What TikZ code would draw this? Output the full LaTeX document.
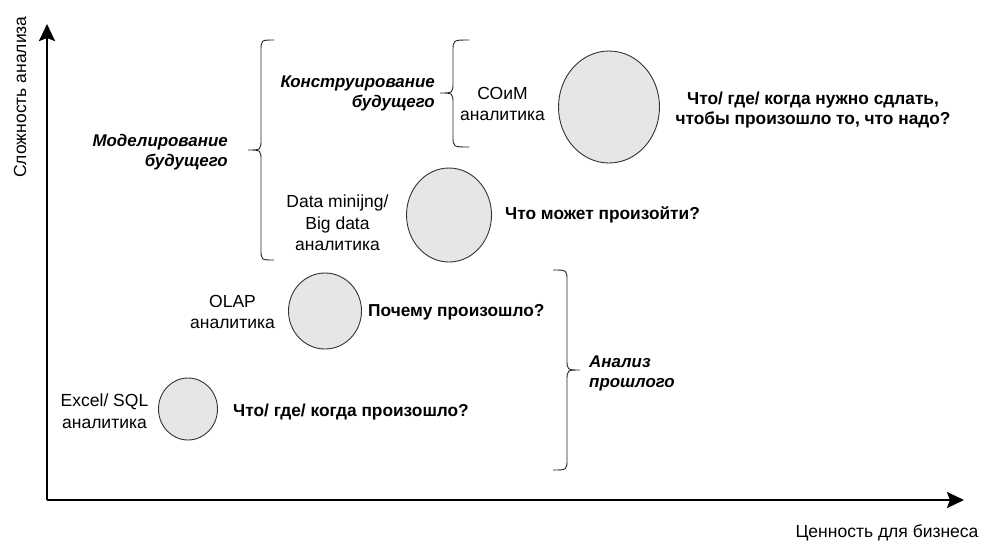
\documentclass[tikz,border=0pt]{standalone}
\usepackage{fontspec}
\setmainfont{Liberation Sans}
\usetikzlibrary{arrows.meta,shapes.geometric}
\definecolor{circfill}{HTML}{E6E6E6}
\definecolor{circline}{HTML}{333333}
\tikzset{
  axis/.style={line width=2.6pt,-{Stealth[length=17pt,width=16pt,inset=3pt]}},
  blob/.style={ellipse,draw=circline,line width=0.9pt,fill=circfill,inner sep=0pt},
  lbl/.style={font=\fontsize{17.5}{21.5}\selectfont,align=center,inner sep=0pt},
  qtxt/.style={font=\bfseries\fontsize{17.3}{20}\selectfont,align=center,inner sep=0pt},
  grp/.style={font=\bfseries\itshape\fontsize{16.9}{20}\selectfont,inner sep=0pt},
  brace/.style={draw=black!85,line width=0.9pt}
}
\newcommand{\mybrace}[6]{% xe xv xt yt ym yb
  \draw[brace] (#1,#4) .. controls (#2,#4) .. (#2,#4+11) -- (#2,#5-11)
    .. controls (#2,#5) .. (#3,#5) .. controls (#2,#5) .. (#2,#5+11)
    -- (#2,#6-11) .. controls (#2,#6) .. (#1,#6);}
\begin{document}
\begin{tikzpicture}[x=1pt,y=-1pt]
\useasboundingbox (0,0) rectangle (981,542);
% axes
\coordinate (origin) at (47,500);
\coordinate (ytop) at (47,24);
\coordinate (xend) at (964,500);
\draw[axis] (origin) -- (ytop);
\draw[axis] (origin) -- (xend);
\node[lbl,rotate=90] (ylab) at (20,97) {Сложность анализа};
\node[lbl] (xlab) at (887,533) {Ценность для бизнеса};
% circles
\node[blob,minimum width=59pt,minimum height=62pt] (c1) at (188,409) {};
\node[blob,minimum width=73pt,minimum height=76pt] (c2) at (325,311) {};
\node[blob,minimum width=85pt,minimum height=94pt] (c3) at (449,215) {};
\node[blob,minimum width=101pt,minimum height=112pt] (c4) at (609,107) {};
% labels
\node[lbl] (l1) at (104.5,411) {Excel/ SQL\\аналитика};
\node[lbl] (l2) at (232.5,312) {OLAP\\аналитика};
\node[lbl] (l3) at (337.5,223) {Data minijng/\\Big data\\аналитика};
\node[lbl] (l4) at (502.5,104) {СОиМ\\аналитика};
% questions
\node[qtxt,anchor=west] (q1) at (233,412) {Что/ где/ когда произошло?};
\node[qtxt,anchor=west] (q2) at (368,312) {Почему произошло?};
\node[qtxt,anchor=west] (q3) at (505,215) {Что может произойти?};
\node[qtxt] (q4) at (813,110) {Что/ где/ когда нужно сдлать,\\чтобы произошло то, что надо?};
% groups
\node[grp,align=right,anchor=east] (g1) at (228,152) {Моделирование\\будущего};
\node[grp,align=right,anchor=east] (g2) at (435,93) {Конструирование\\будущего};
\node[grp,align=left,anchor=west] (g3) at (589,373) {Анализ\\прошлого};
% braces
\mybrace{274}{261}{248}{40}{150}{260}
\mybrace{469}{453}{440}{40}{93}{147}
\mybrace{553}{567}{580}{270}{370}{470}
\end{tikzpicture}
\end{document}
